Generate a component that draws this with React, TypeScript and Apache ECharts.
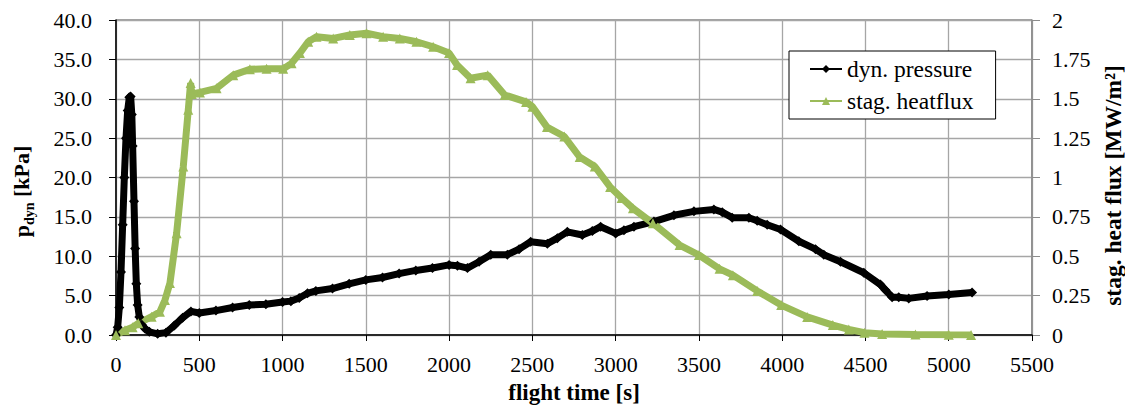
import React, { useEffect, useRef } from "react";
import * as echarts from "echarts";

// flight time [s] and dynamic pressure [kPa]
const pdynTime = [
  0, 10, 20, 30, 40, 50, 60, 70, 80, 88, 95, 100, 108, 115, 122, 130, 140, 155, 175, 200,
  250, 300, 350, 400, 450, 500, 600, 700, 800, 900, 1000, 1050, 1100, 1150, 1200, 1300,
  1400, 1500, 1600, 1700, 1800, 1900, 2000, 2050, 2110, 2180, 2250, 2350, 2420, 2490,
  2590, 2650, 2710, 2800, 2860, 2910, 3000, 3050, 3110, 3230, 3350, 3470, 3590, 3640,
  3700, 3800, 3850, 3910, 3990, 4100, 4200, 4250, 4350, 4490, 4590, 4620, 4660, 4700,
  4760, 4870, 5000, 5140,
];
const pdynValues = [
  0, 1, 3.5, 8, 14, 20, 25, 28.5, 30.2, 30.3, 28, 24, 17, 11, 6.5, 3.8, 2.3, 1.3, 0.8, 0.4,
  0.15, 0.3, 1.2, 2.2, 3.0, 2.8, 3.1, 3.5, 3.8, 3.9, 4.2, 4.3, 4.7, 5.3, 5.6, 5.9,
  6.5, 7.0, 7.3, 7.8, 8.2, 8.5, 8.9, 8.8, 8.5, 9.3, 10.2, 10.2, 10.9, 11.85,
  11.6, 12.3, 13.1, 12.7, 13.2, 13.75, 12.9, 13.3, 13.75, 14.4, 15.2, 15.7, 15.95, 15.6,
  14.9, 14.9, 14.5, 14.0, 13.4, 11.9, 10.9, 10.2, 9.3, 7.9, 6.4, 5.7, 4.8, 4.8,
  4.65, 4.95, 5.15, 5.4,
];

// flight time [s] and stagnation heat flux [MW/m2]
const fluxTime = [
  0, 54, 100, 134, 214, 264, 294, 324, 364, 404, 434, 448, 455, 504, 604, 704, 804, 904,
  1004, 1054, 1104, 1154, 1204, 1304, 1404, 1504, 1604, 1704, 1804, 1904, 2000, 2048,
  2129, 2232, 2334, 2462, 2500, 2588, 2692, 2784, 2875, 2967, 3036, 3104, 3224, 3384,
  3500, 3624, 3704, 3850, 3994, 4150, 4304, 4400, 4494, 4600, 4800, 5000, 5134,
];
const fluxValues = [
  0, 0.03, 0.05, 0.074, 0.116, 0.148, 0.222, 0.33, 0.646, 1.07, 1.43, 1.6, 1.53, 1.54,
  1.566, 1.65, 1.687, 1.69, 1.69, 1.725, 1.79, 1.862, 1.894, 1.883, 1.905, 1.916, 1.894,
  1.883, 1.862, 1.83, 1.79, 1.714, 1.63, 1.65, 1.524, 1.48, 1.45, 1.32, 1.26, 1.13, 1.07,
  0.94, 0.87, 0.804, 0.709, 0.571, 0.508, 0.42, 0.38, 0.28, 0.19, 0.115, 0.063, 0.035,
  0.015, 0.006, 0.003, 0.001, 0,
];

const seriesNames = ["dyn. pressure", "stag. heatflux"];
const FONT = "'Liberation Serif', 'Times New Roman', serif";

export default function App() {
  const ref = useRef<HTMLDivElement>(null);
  useEffect(() => {
    const chart = echarts.init(ref.current!, null, { renderer: "svg" });
    chart.setOption({
      animation: false,
      backgroundColor: "#fff",
      textStyle: { fontFamily: FONT, color: "#000" },
      grid: {
        left: 116,
        right: 93,
        top: 20,
        bottom: 71,
        containLabel: false,
        outerBoundsMode: "none",
        show: true,
        borderColor: "#404040",
        borderWidth: 1,
        backgroundColor: "transparent",
      },
      legend: {
        orient: "vertical",
        left: 789,
        top: 51,
        padding: [6, 22, 6, 20],
        itemGap: 8,
        itemWidth: 32,
        itemHeight: 10,
        borderColor: "#000",
        borderWidth: 1,
        backgroundColor: "#fff",
        lineStyle: { width: 2 },
        textStyle: { fontFamily: FONT, fontSize: 23.5, color: "#000" },
        data: seriesNames,
      },
      xAxis: {
        type: "value",
        min: 0,
        max: 5500,
        interval: 500,
        name: "flight time [s]",
        nameLocation: "middle",
        nameGap: 46,
        nameTextStyle: { fontFamily: FONT, fontWeight: "bold", fontSize: 23, color: "#000" },
        axisLine: { show: true, onZero: false, lineStyle: { color: "#000", width: 1.5 } },
        axisTick: { show: true, length: 6, lineStyle: { color: "#000" } },
        axisLabel: {
          fontFamily: FONT,
          fontSize: 22,
          color: "#000",
          margin: 18,
          formatter: (v: number) => String(v),
        },
        splitLine: { show: true, lineStyle: { color: "#a6a6a6", width: 1.3 } },
      },
      yAxis: [
        {
          type: "value",
          position: "left",
          min: 0,
          max: 40,
          interval: 5,
          name: "{p|p}{s|dyn}{p| [kPa]}",
          nameLocation: "middle",
          nameRotate: 90,
          nameGap: 80,
          nameTextStyle: {
            fontFamily: FONT,
            fontWeight: "bold",
            fontSize: 22,
            color: "#000",
            padding: [0, 28, 0, 0],
            rich: {
              p: { fontFamily: FONT, fontWeight: "bold", fontSize: 22, lineHeight: 30, color: "#000" },
              s: {
                fontFamily: FONT,
                fontWeight: "bold",
                fontSize: 14,
                lineHeight: 14,
                verticalAlign: "bottom",
                color: "#000",
              },
            },
          },
          axisLine: { show: true, onZero: false, lineStyle: { color: "#000", width: 1.5 } },
          axisTick: { show: true, length: 7, lineStyle: { color: "#000" } },
          axisLabel: {
            fontFamily: FONT,
            fontSize: 22,
            color: "#000",
            margin: 24,
            formatter: (v: number) => v.toFixed(1),
          },
          splitLine: { show: true, lineStyle: { color: "#a6a6a6", width: 1.3 } },
        },
        {
          type: "value",
          position: "right",
          min: 0,
          max: 2,
          interval: 0.25,
          name: "stag. heat flux [MW/m²]",
          nameLocation: "middle",
          nameRotate: 90,
          nameGap: 67,
          nameTextStyle: {
            fontFamily: FONT,
            fontWeight: "bold",
            fontSize: 23.5,
            color: "#000",
            padding: [0, 16, 0, 0],
          },
          axisLine: { show: true, onZero: false, lineStyle: { color: "#8c8c8c", width: 1.5 } },
          axisTick: { show: true, length: 8, lineStyle: { color: "#8c8c8c" } },
          axisLabel: { fontFamily: FONT, fontSize: 22, color: "#000", margin: 20 },
          splitLine: { show: false },
        },
      ],
      series: [
        {
          name: seriesNames[0],
          type: "line",
          yAxisIndex: 0,
          data: pdynTime.map((t, i) => [t, pdynValues[i]]),
          symbol: "diamond",
          symbolSize: 10,
          showAllSymbol: true,
          itemStyle: { color: "#000" },
          lineStyle: { color: "#000", width: 7 },
        },
        {
          name: seriesNames[1],
          type: "line",
          yAxisIndex: 1,
          data: fluxTime.map((t, i) => [t, fluxValues[i]]),
          symbol: "triangle",
          symbolSize: 10,
          showAllSymbol: true,
          itemStyle: { color: "#9BBB59" },
          lineStyle: { color: "#9BBB59", width: 7 },
        },
      ],
    });
    return () => chart.dispose();
  }, []);
  return (
    <div
      ref={ref}
      style={{ position: "fixed", left: 0, top: 0, width: 1125, height: 406 }}
    />
  );
}
